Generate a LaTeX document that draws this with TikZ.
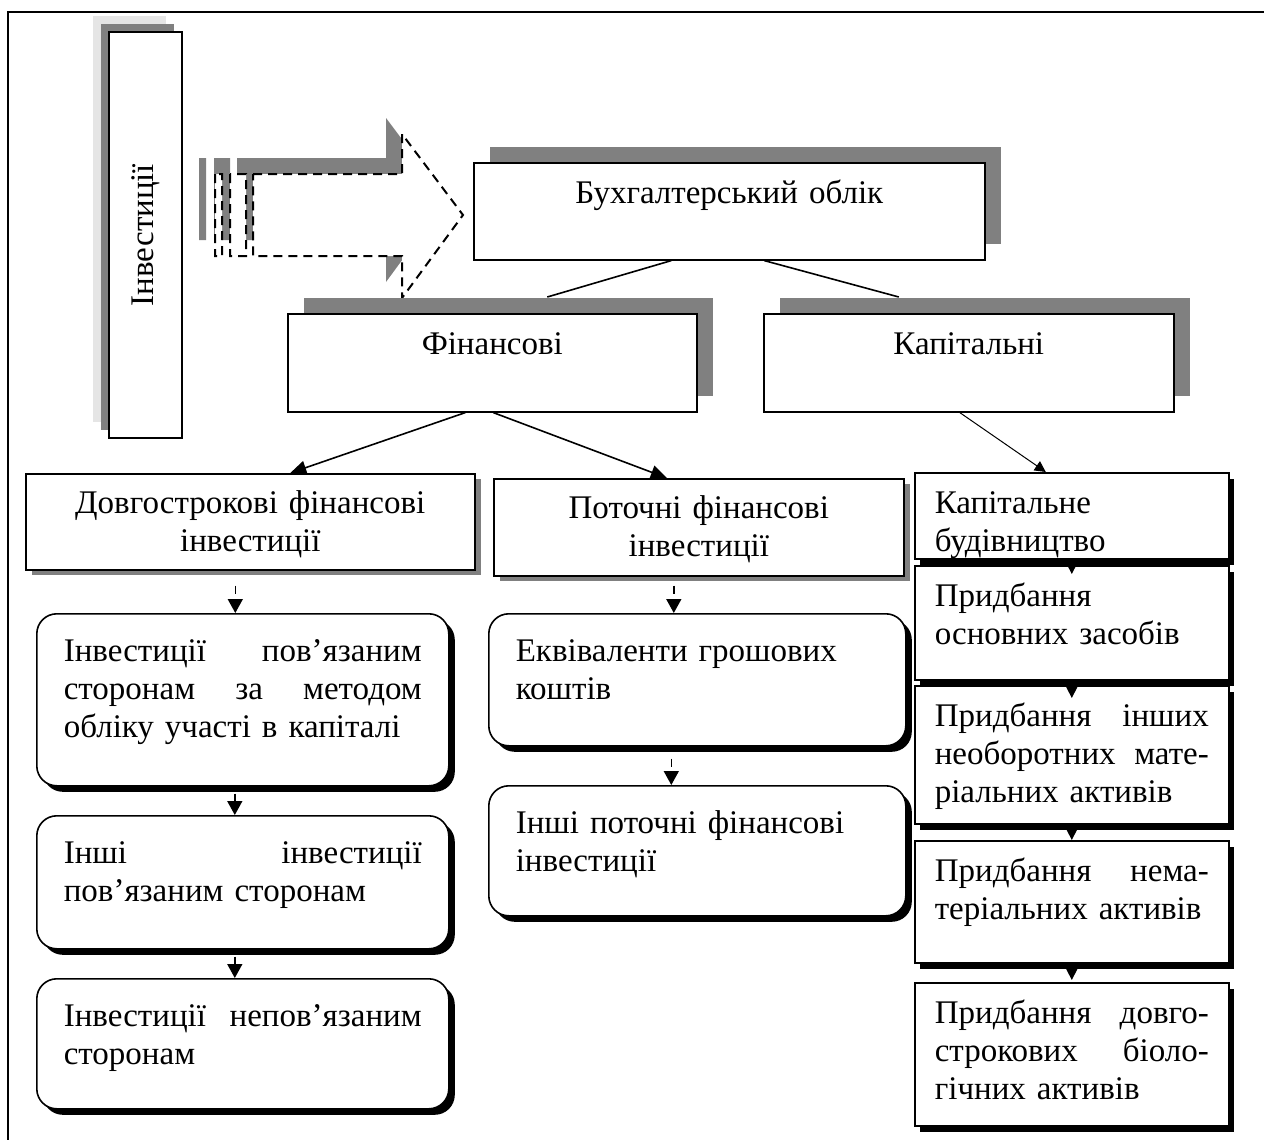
\documentclass[tikz,border=0pt]{standalone}
\usepackage{fontspec}
\setmainfont{Liberation Serif}
\usetikzlibrary{positioning,arrows.meta,shadows}
\newcommand{\boxfont}{\fontsize{33pt}{38pt}\selectfont}

\begin{document}
\begin{tikzpicture}[x=1pt, y=-1pt, line width=1.6pt,
    font=\boxfont, inner ysep=0pt,
    box/.style={draw=black, fill=white, anchor=north west, text height=41pt},
    upbox/.style={box, align=center, inner xsep=10pt,
      general shadow={fill=gray, draw=none, shadow xshift=16pt, shadow yshift=16pt}},
    midbox/.style={box, align=center, inner xsep=10pt, text height=40pt,
      general shadow={fill=gray, draw=none, shadow xshift=6pt, shadow yshift=-5pt}},
    roundbox/.style={box, align=left, rounded corners=20pt, inner xsep=27pt, text height=48pt,
      general shadow={fill=black, draw=none, shadow xshift=6pt, shadow yshift=-6pt}},
    capbox/.style={box, align=left, inner xsep=20pt, text width=274pt,
      general shadow={fill=black, draw=none, shadow xshift=5pt, shadow yshift=-6pt}},
    invbox/.style={draw=black, fill=white, minimum width=73pt, minimum height=406pt, inner sep=0pt,
      general shadow={fill=black!10, draw=none, shadow xshift=-16pt, shadow yshift=16pt},
      general shadow={fill=gray, draw=none, shadow xshift=-8pt, shadow yshift=8pt}},
    tip/.style={-{Triangle[length=16pt,width=14pt]}},
    dashedge/.style={dash pattern=on 8pt off 6pt, -{Triangle[length=14pt,width=15pt]}},
    capedge/.style={line width=1pt, -{Triangle[length=11pt,width=11pt]}}]
    \useasboundingbox (0,0) rectangle (1264,1140);
    \draw[line width=2pt] (8,1140) -- (8,12) -- (1264,12);

    \node [invbox] (invest) at (145.5,235) {\rotatebox{90}{Інвестиції}};

    % striped block arrow
    \begin{scope}[shift={(-16,-16)}]
      \fill[gray] (215,174) rectangle (222,256) (230,174) rectangle (246,256)
        (253,174) -- (402,174) -- (402,134) -- (463,215) -- (402,298) -- (402,256) -- (253,256) -- cycle;
    \end{scope}
    \filldraw[fill=white, line width=2pt, dash pattern=on 9pt off 6pt]
      (215,174) rectangle (222,256) (230,174) rectangle (246,256)
      (253,174) -- (402,174) -- (402,134) -- (463,215) -- (402,298) -- (402,256) -- (253,256) -- cycle;

    \node [upbox, text width=491pt, text depth=56pt] (buh) at (473,162) {Бухгалтерський облік};
    \node [upbox, text width=389pt, text depth=57pt] (fin) at (287,313) {Фінансові};
    \node [upbox, text width=390pt, text depth=57pt] (kap) at (763,313) {Капітальні};

    \node [midbox, text width=429pt, text depth=56pt] (dovg) at (25,473) {Довгострокові фінансові\\ інвестиції};
    \node [midbox, text width=390pt, text depth=57pt] (potoch) at (493,478) {Поточні фінансові\\ інвестиції};

    \node [roundbox, text width=358pt, text depth=124pt] (related) at (36,613)
      {Інвестиції \hfill пов’язаним\\ сторонам \hfill за \hfill методом\\ обліку участі в капіталі};
    \node [roundbox, text width=358pt, text depth=85pt] (otherrel) at (36,815)
      {Інші \hfill інвестиції\\ пов’язаним сторонам};
    \node [roundbox, text width=358pt, text depth=82pt] (unrel) at (36,978)
      {Інвестиції \hfill непов’язаним\\ сторонам};

    \node [roundbox, text width=363pt, text depth=84pt] (cash) at (488,613) {Еквіваленти грошових\\ коштів};
    \node [roundbox, text width=363pt, text depth=82pt] (othercur) at (488,785) {Інші поточні фінансові\\ інвестиції};

    \node [capbox, text depth=45pt] (build) at (914,472) {Капітальне\\ будівництво};
    \node [capbox, text depth=73pt] (fixed) at (914,565) {Придбання\\ основних засобів};
    \node [capbox, text depth=97pt] (noncur) at (914,685)
      {Придбання \hfill інших\\ необоротних \hfill мате-\\ ріальних активів};
    \node [capbox, text depth=81pt] (intang) at (914,840) {Придбання \hfill нема-\\ теріальних активів};
    \node [capbox, text depth=102pt] (bio) at (914,982)
      {Придбання \hfill довго-\\ строкових \hfill біоло-\\ гічних активів};

    \draw ([xshift=-58pt]buh.south) -- ([xshift=55pt,yshift=16pt]fin.north);
    \draw ([xshift=35pt]buh.south) -- ([xshift=-70pt,yshift=16pt]kap.north);
    \draw [tip] ([xshift=-27pt]fin.south) -- ([xshift=40pt]dovg.north);
    \draw [tip] ([xshift=1pt]fin.south) -- ([xshift=-32pt]potoch.north);
    \draw [capedge] ([xshift=-9pt]kap.south) -- ([xshift=-26pt]build.north);

    \draw [dashedge, shorten <=15pt] ([xshift=-15pt]dovg.south) -- ([xshift=-15pt]dovg.south |- related.north);
    \draw [dashedge, shorten <=7pt] ([xshift=-8pt]related.south) -- ([xshift=-8pt]otherrel.north);
    \draw [dashedge, shorten <=7pt] ([xshift=-8pt]otherrel.south) -- ([xshift=-8pt]unrel.north);
    \draw [dashedge, shorten <=9pt] ([xshift=-25pt]potoch.south) -- ([xshift=-25pt]potoch.south |- cash.north);
    \draw [dashedge, shorten <=12pt] ([xshift=-26pt]cash.south) -- ([xshift=-26pt]othercur.north);

    \draw [capedge, shorten >=-9pt] (build) -- (fixed);
    \draw [capedge, shorten >=-13pt] (fixed.south) -- (noncur.north);
    \draw [capedge] (noncur.south) -- (intang.north);
    \draw [capedge, shorten >=2pt] (intang.south) -- (bio.north);

\end{tikzpicture}
\end{document}
